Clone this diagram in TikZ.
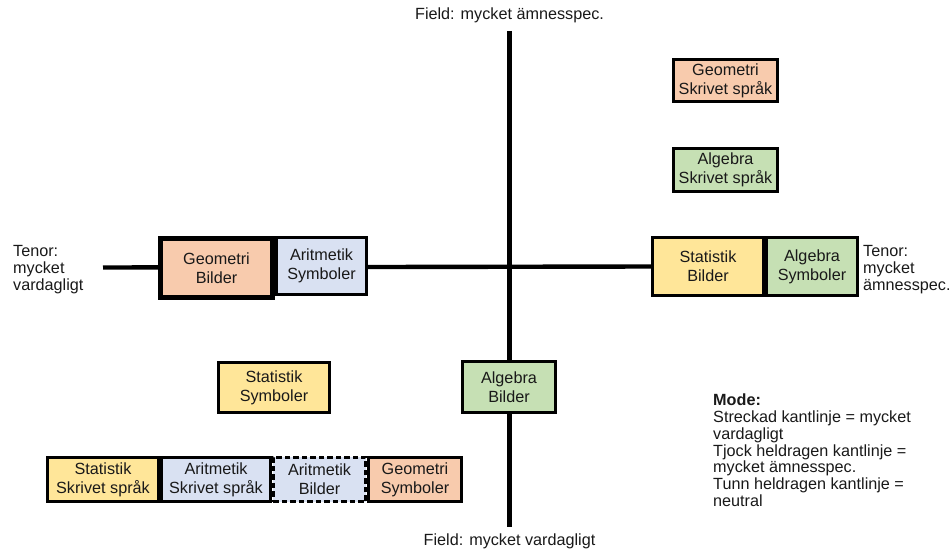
\documentclass[tikz,border=0pt]{standalone}
\usepackage{fontspec}
\setmainfont{Liberation Sans}
\definecolor{cOrange}{HTML}{F8CBAD}
\definecolor{cBlue}{HTML}{D9E1F2}
\definecolor{cGreen}{HTML}{C6E0B4}
\definecolor{cYellow}{HTML}{FFE699}
\begin{document}
\begin{tikzpicture}[x=1pt,y=-1pt,
  every node/.style={font=\fontsize{16.2}{19}\selectfont, inner sep=0pt, text=black!90},
  box/.style={draw=black, line width=2.6pt, align=center, rectangle},
  thickbox/.style={box, line width=4.6pt},
  dashbox/.style={box, dash pattern=on 5.5pt off 3pt},
  axis/.style={line width=4.4pt},
  label/.style={align=left, anchor=west, font=\fontsize{16.2}{17.2}\selectfont}
]
\useasboundingbox (0,0) rectangle (950,551);

% axis end points
\coordinate (vtop) at (509.5,31);
\coordinate (vbot) at (509.5,527);
\coordinate (hleft) at (103,267.5);

% axis titles
\node (ftop) at (509.5,15) {Field: mycket ämnesspec.};
\node (fbot) at (509.5,541) {Field: mycket vardagligt};
\node[label, anchor=north west] (tleft) at (13,245) {Tenor:\\mycket\\vardagligt};
\node[label, anchor=north west] (tright) at (863,245) {Tenor:\\mycket\\ämnesspec.};

% vertical axis
\draw[axis] (vtop) -- (vbot);

% boxes on the horizontal axis
\node[box, fill=cYellow, minimum width=111.5pt, minimum height=58.5pt] (statB) at (708,266.5) {Statistik\\Bilder};
\node[box, fill=cGreen, minimum width=91.5pt, minimum height=58.5pt] (algS) at (812,266.5) {Algebra\\Symboler};
\draw[axis] (hleft) -- (statB.west);
\node[box, fill=cBlue, minimum width=90.5pt, minimum height=57.5pt] (ariS) at (321.5,266) {Aritmetik\\Symboler};
\node[thickbox, fill=cOrange, minimum width=112.5pt, minimum height=59.5pt] (geoB) at (216.5,268) {Geometri\\Bilder};

% upper right quadrant
\node[box, fill=cOrange, minimum width=104.5pt, minimum height=42.5pt] (geoW) at (725.5,80.5) {Geometri\\Skrivet språk};
\node[box, fill=cGreen, minimum width=104.5pt, minimum height=43.5pt] (algW) at (725.5,170) {Algebra\\Skrivet språk};

% lower half
\node[box, fill=cYellow, minimum width=111.5pt, minimum height=50.5pt] (statS) at (274,387.5) {Statistik\\Symboler};
\node[box, fill=cGreen, minimum width=93.5pt, minimum height=51.5pt] (algB) at (509,387) {Algebra\\Bilder};

% bottom row
\node[box, fill=cYellow, minimum width=111.5pt, minimum height=44.5pt] (statW) at (103,479.5) {Statistik\\Skrivet språk};
\node[box, fill=cBlue, minimum width=109.5pt, minimum height=44.5pt] (ariW) at (216,479.5) {Aritmetik\\Skrivet språk};
\node[dashbox, fill=cBlue, minimum width=92.5pt, minimum height=44.5pt] (ariB) at (319.5,479.5) {Aritmetik\\Bilder};
\node[box, fill=cOrange, minimum width=93.5pt, minimum height=44.5pt] (geoS) at (415,479.5) {Geometri\\Symboler};

% legend
\node[label, anchor=north west, font=\fontsize{16.2}{16.7}\selectfont] (legend) at (713,394)
  {\textbf{Mode:}\\Streckad kantlinje = mycket\\vardagligt\\Tjock heldragen kantlinje =\\mycket ämnesspec.\\Tunn heldragen kantlinje =\\neutral};
\end{tikzpicture}
\end{document}
